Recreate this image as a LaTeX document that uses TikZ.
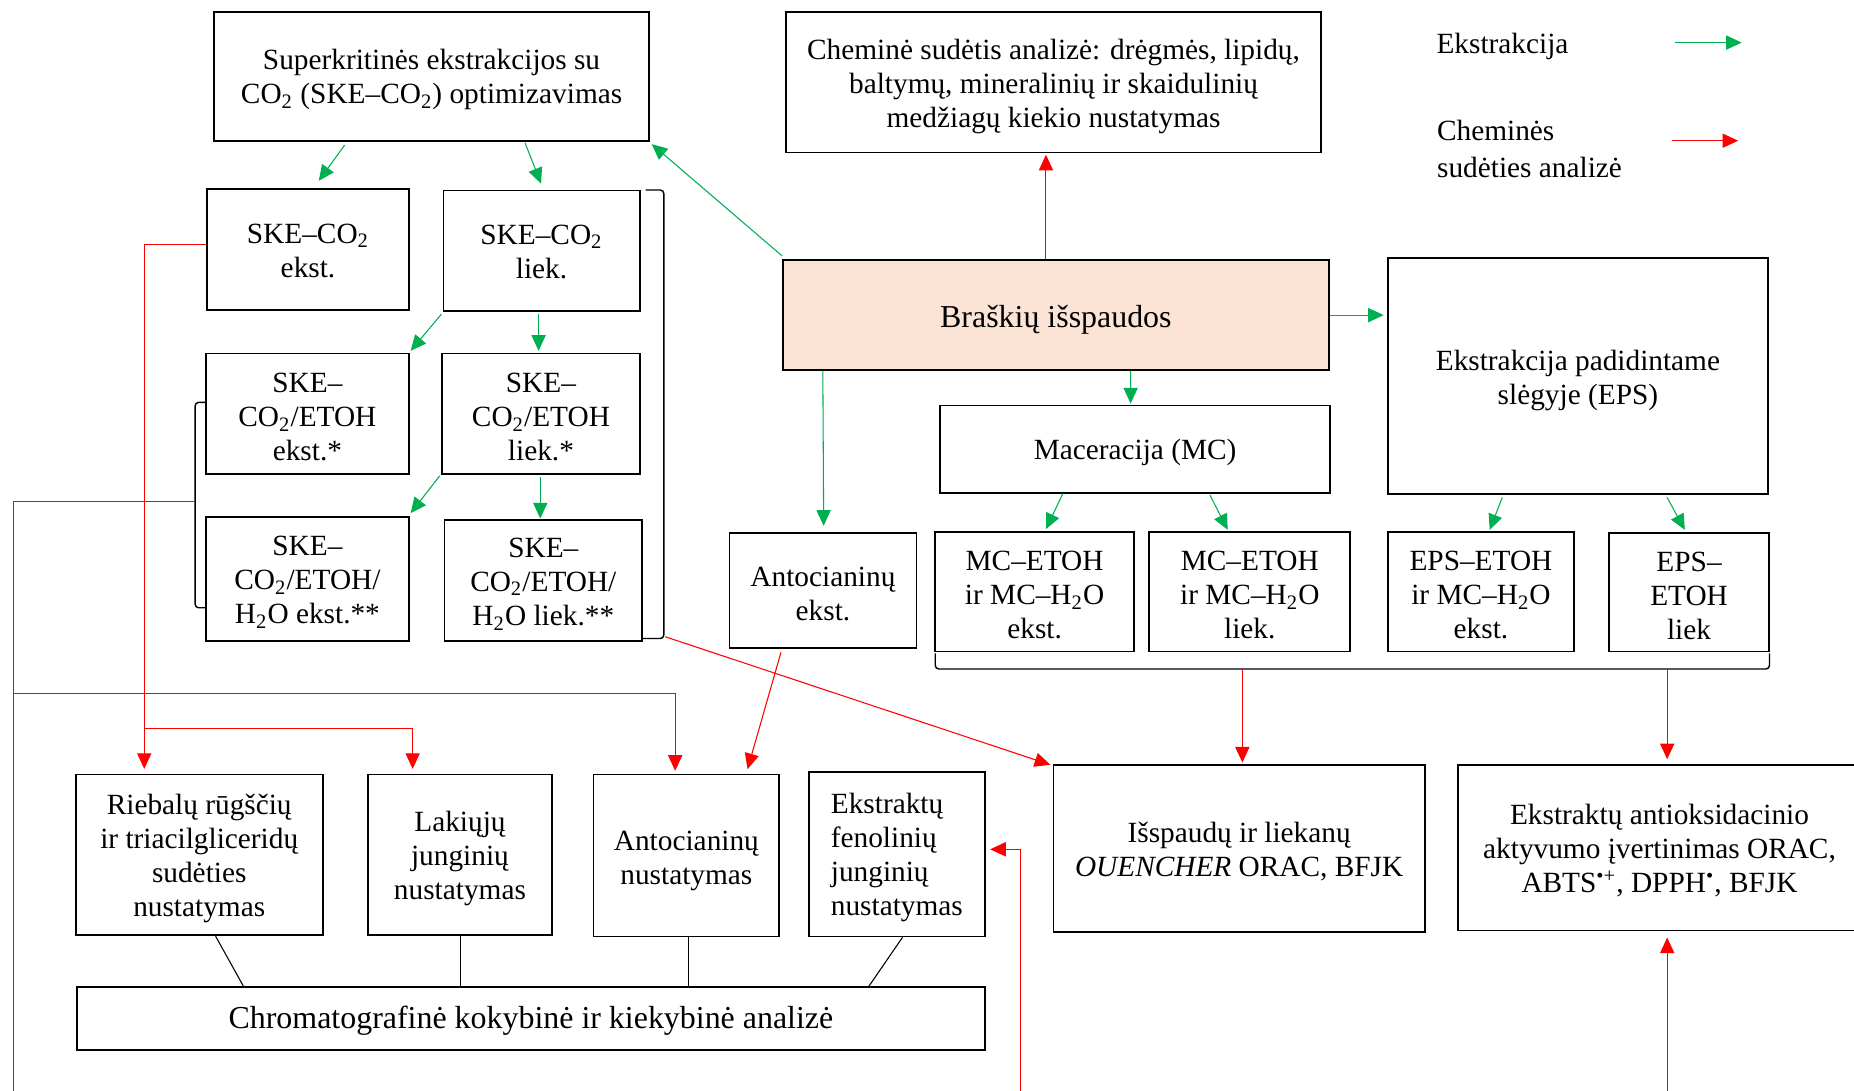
\documentclass[tikz,border=0pt]{standalone}
\usepackage{fontspec}
\setmainfont{Liberation Serif}
\usetikzlibrary{arrows.meta,calc}
\definecolor{grn}{HTML}{00B050}
\definecolor{rd}{HTML}{FF0000}
\definecolor{peach}{HTML}{FBE4D5}
\newcommand\myfs{\fontsize{12.4pt}{14.4pt}\selectfont}
\newcommand\mybig{\fontsize{13.5pt}{15.5pt}\selectfont}
% centred lines, lowered a little while keeping the box extents
\newcommand\tx[2][1.5pt]{\raisebox{-#1}[\height][\depth]{\vbox{\halign{\hfil##\hfil\cr#2\crcr}}}}
\newcommand\txl[2][1.5pt]{\raisebox{-#1}[\height][\depth]{\vbox{\halign{##\hfil\cr#2\crcr}}}}
\tikzset{
  bx/.style={draw, line width=0.7pt, inner sep=0pt, font=\myfs},
  txt/.style={inner sep=0pt, font=\myfs},
  garr/.style={draw=grn, line width=0.45pt, -{Triangle[length=6.6pt,width=6pt]}},
  rarr/.style={draw=rd, line width=0.45pt, -{Triangle[length=6.6pt,width=6pt]}},
  rln/.style={draw=rd, line width=0.45pt},
  bln/.style={draw=black, line width=0.45pt},
  brk/.style={draw=black, line width=0.6pt, rounded corners=1.5pt},
}
\begin{document}
\begin{tikzpicture}[x={(0.5pt,0)}, y={(0,-0.5pt)}]
\useasboundingbox (0,0) rectangle (1568,922);
\clip (0,0) rectangle (1568,922);

% boxes
\node[bx, minimum width=184pt, minimum height=54.5pt] (super) at (365,64.5)
  {\tx{Superkritinės ekstrakcijos su\cr CO\textsubscript{2} (SKE–CO\textsubscript{2}) optimizavimas}};
\node[bx, minimum width=226pt, minimum height=59.5pt] (chem) at (891,69.5)
  {\tx[1.7pt]{Cheminė sudėtis analizė: drėgmės, lipidų,\cr baltymų, mineralinių ir skaidulinių\cr medžiagų kiekio nustatymas}};
\node[bx, minimum width=85.5pt, minimum height=51pt] (skeE) at (260.5,211)
  {\tx[0.5pt]{SKE–CO\textsubscript{2}\cr ekst.}};
\node[bx, minimum width=83pt, minimum height=51pt] (skeL) at (458,212)
  {\tx[0.5pt]{SKE–CO\textsubscript{2}\cr liek.}};
\node[bx, minimum width=86pt, minimum height=51pt] (etE) at (260,350)
  {\tx{SKE–\cr CO\textsubscript{2}/ETOH\cr ekst.*}};
\node[bx, minimum width=83.5pt, minimum height=51pt] (etL) at (457.5,350)
  {\tx{SKE–\cr CO\textsubscript{2}/ETOH\cr liek.*}};
\node[bx, minimum width=86pt, minimum height=52.5pt] (h2E) at (260,489.5)
  {\tx{SKE–\cr CO\textsubscript{2}/ETOH/\cr H\textsubscript{2}O ekst.**}};
\node[bx, minimum width=83.5pt, minimum height=51pt] (h2L) at (459.5,491)
  {\tx{SKE–\cr CO\textsubscript{2}/ETOH/\cr H\textsubscript{2}O liek.**}};
\node[bx, fill=peach, minimum width=231pt, minimum height=46.5pt, font=\mybig] (brask) at (893,266.5)
  {\tx[2pt]{Braškių išspaudos}};
\node[bx, minimum width=160.5pt, minimum height=100pt] (eps) at (1334.5,318)
  {\tx[2pt]{Ekstrakcija padidintame\cr slėgyje (EPS)}};
\node[bx, minimum width=165pt, minimum height=37pt] (mac) at (960,380)
  {\tx{Maceracija (MC)}};
\node[bx, minimum width=79pt, minimum height=48.5pt] (antE) at (696,499.5)
  {\tx{Antocianinų\cr ekst.}};
\node[bx, minimum width=84pt, minimum height=50.5pt] (mcE) at (875,500.5)
  {\tx{MC–ETOH\cr ir MC–H\textsubscript{2}O\cr ekst.}};
\node[bx, minimum width=85pt, minimum height=50.5pt] (mcL) at (1057,500.5)
  {\tx{MC–ETOH\cr ir MC–H\textsubscript{2}O\cr liek.}};
\node[bx, minimum width=78.5pt, minimum height=50.5pt] (epsE) at (1252.5,500.5)
  {\tx{EPS–ETOH\cr ir MC–H\textsubscript{2}O\cr ekst.}};
\node[bx, minimum width=67.5pt, minimum height=50pt] (epsL) at (1428.5,501)
  {\tx{EPS–\cr ETOH\cr liek}};
\node[bx, minimum width=104.5pt, minimum height=68pt] (rieb) at (168.5,723)
  {\tx{Riebalų rūgščių\cr ir triacilgliceridų\cr sudėties\cr nustatymas}};
\node[bx, minimum width=78pt, minimum height=68pt] (lak) at (389,723)
  {\tx{Lakiųjų\cr junginių\cr nustatymas}};
\node[bx, minimum width=78.5pt, minimum height=68.5pt] (antN) at (580.5,723.5)
  {\tx[2.4pt]{Antocianinų\cr nustatymas}};
\node[bx, minimum width=74.5pt, minimum height=69.5pt] (fen) at (758.5,722.5)
  {\txl{Ekstraktų\cr fenolinių\cr junginių\cr nustatymas}};
\node[bx, minimum width=384pt, minimum height=26.5pt, font=\mybig] (chrom) at (449,861.5)
  {\tx[1pt]{Chromatografinė kokybinė ir kiekybinė analizė}};
\node[bx, minimum width=157pt, minimum height=70.5pt] (issp) at (1048,717.5)
  {\tx[1.2pt]{Išspaudų ir liekanų\cr \textit{OUENCHER} ORAC, BFJK}};
\node[bx, minimum width=170.5pt, minimum height=70pt] (antiox) at (1403.5,717)
  {\tx[1.2pt]{Ekstraktų antioksidacinio\cr aktyvumo įvertinimas ORAC,\cr ABTS\textsuperscript{•+}, DPPH\textsuperscript{•}, BFJK}};

% legend
\node[txt, anchor=west] (lgE) at (1214.5,39) {Ekstrakcija};
\node[txt, anchor=west, align=left] (lgC) at (1215,126) {Cheminės\\[1.6pt]sudėties analizė};
\coordinate (lg1a) at (1417,36);
\coordinate (lg1b) at (1473,36);
\coordinate (lg2a) at (1414,119);
\coordinate (lg2b) at (1470,119);
\draw[garr] (lg1a) -- (lg1b);
\draw[rarr] (lg2a) -- (lg2b);

% brackets
\coordinate (rbA) at (546,160.7);
\coordinate (rbB) at (561.4,540);
\coordinate (rbC) at (543,540);
\draw[brk] (rbA) -| (rbB) -- (rbC);
\coordinate (lbA) at (174,340.3);
\coordinate (lbB) at (165,514);
\coordinate (lbC) at (174,514);
\draw[brk] (lbA) -| (lbB) -- (lbC);
\coordinate (bbA) at (791,552.5);
\coordinate (bbB) at (1496.5,565.8);
\coordinate (bbC) at (1496.5,552.5);
\draw[brk] (bbA) |- (bbB) -- (bbC);

% green arrows
\draw[garr] ($(super.south)+(-73.5,3)$) -- ($(skeE.north)+(9.1,-6.4)$);
\draw[garr] ($(super.south)+(79,1)$) -- ($(skeL.north)+(-0.4,-5)$);
\draw[garr] ($(brask.north west)+(0,-3)$) -- ($(super.south east)+(1.5,2.2)$);
\draw[garr] ($(skeL.south west)+(-1,2)$) -- ($(etE.north east)+(0.6,-1.6)$);
\draw[garr] ($(skeL.south)+(-2.5,1.5)$) -- ($(etL.north)+(-2,-1.6)$);
\draw[garr] ($(etL.south west)+(-1.4,0.7)$) -- ($(h2E.north east)+(0.6,-2.3)$);
\draw[garr] ($(etL.south)+(-0.6,2)$) -- ($(h2L.north)+(-2.6,-0.8)$);
\draw[garr] ($(brask.south west)+(34.6,0)$) -- ($(antE.north)+(0.6,-5.6)$);
\draw[garr] ($(brask.south)+(63.2,0)$) -- ($(mac.north)+(-3.8,-1)$);
\draw[garr] (brask.east) -- ($(brask.east -| eps.west)+(-3,0)$);
\draw[garr] ($(mac.south)+(-61.1,-0.3)$) -- ($(mcE.north)+(9.6,-1.8)$);
\draw[garr] ($(mac.south)+(63.3,1)$) -- ($(mcL.north)+(-18.7,-1.2)$);
\draw[garr] ($(eps.south)+(-64,2)$) -- ($(epsE.north)+(7.4,-1.2)$);
\draw[garr] ($(eps.south)+(75.4,2)$) -- ($(epsL.north)+(-3.6,-2.2)$);

% red arrows
\draw[rarr] ($(brask.north)+(-8.4,0)$) -- ($(chem.south)+(-6.4,1.2)$);
\draw[rarr] ($(skeE.west)+(0,-4.4)$) -| ($(rieb.north)+(-46.5,-4)$);
\coordinate (rbr1) at ($(rieb.north)+(-46.5,-38.5)$);
\draw[rarr] (rbr1) -| ($(lak.north)+(-40,-4)$);
\coordinate (lbr) at (165,424.3);
\coordinate (botL) at (11.3,930);
\draw[rln] (lbr) -| (botL);
\coordinate (lj) at (11.3,586.4);
\draw[rarr] (lj) -| ($(antN.north)+(-9.5,-2.4)$);
\draw[rarr] ($(antE.south)+(-35.5,3)$) -- ($(antN.north)+(51.7,-3.8)$);
\coordinate (rbr) at (562.6,538.5);
\draw[rarr] (rbr) -- ($(issp.north west)+(-2,0.5)$);
\coordinate (bb1) at (1050.7,565.8);
\coordinate (bb2) at (1410,565.8);
\draw[rarr] (bb1) -- ($(issp.north)+(2.7,-1.4)$);
\draw[rarr] (bb2) -- ($(antiox.north)+(6.5,-4.2)$);
\coordinate (botR) at (1410,930);
\draw[rarr] (botR) -- ($(antiox.south)+(6.5,5.2)$);
\coordinate (botM) at (863,930);
\draw[rarr] (botM) |- ($(fen.east)+(3.7,-4.2)$);

% black lines to chromatography
\draw[bln] ($(rieb.south)+(13.8,0)$) -- ($(chrom.north)+(-243,0)$);
\draw[bln] ($(lak.south)+(0.5,0)$) -- ($(chrom.north)+(-59.5,0)$);
\draw[bln] ($(antN.south)+(1.5,0)$) -- ($(chrom.north)+(133,0)$);
\draw[bln] ($(fen.south)+(4.8,0)$) -- ($(chrom.north)+(285.7,0)$);
\end{tikzpicture}
\end{document}
